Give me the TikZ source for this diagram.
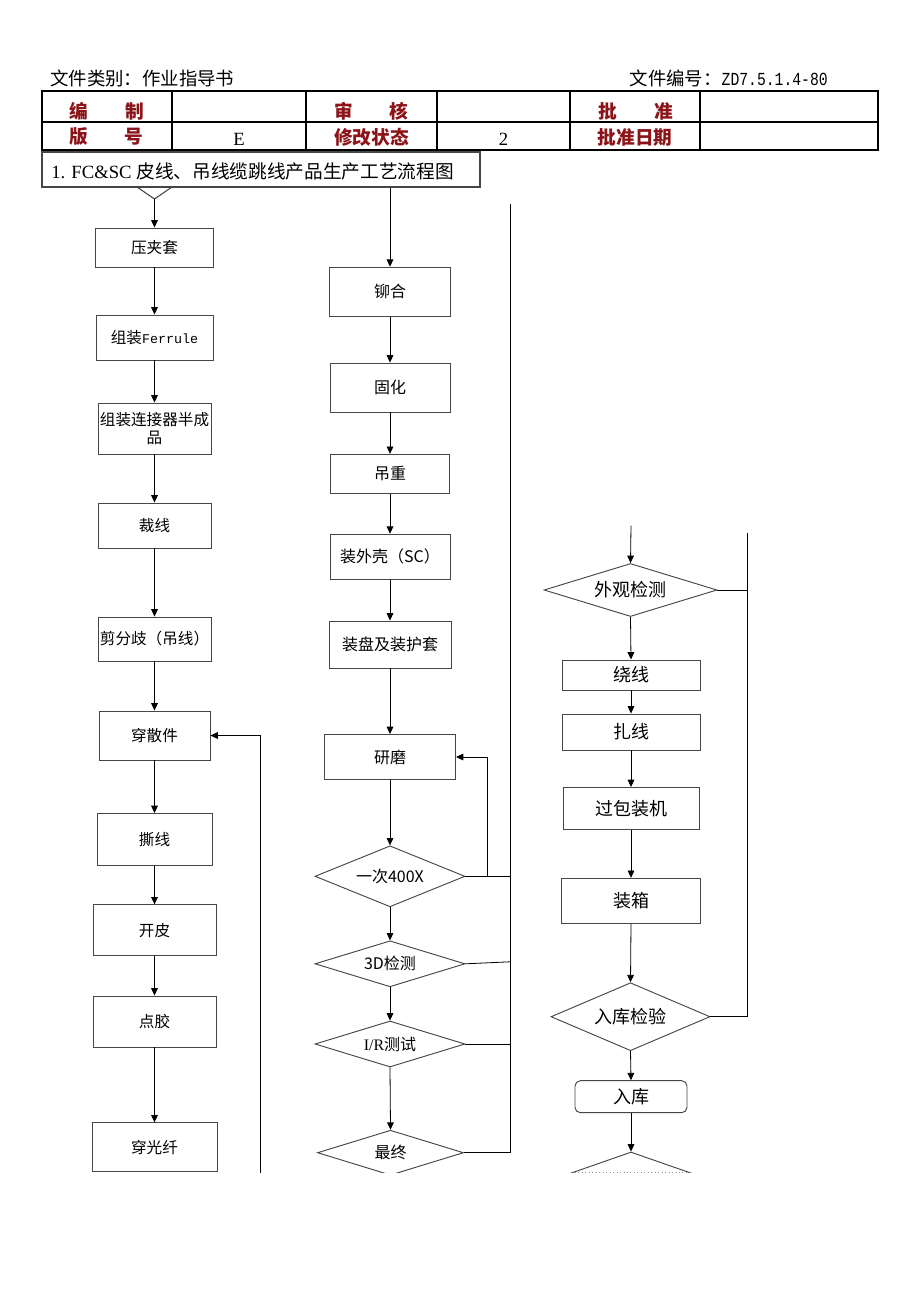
\documentclass[tikz,border=0pt]{standalone}
\usepackage{fontspec}
\setmainfont{Liberation Serif}
\newfontfamily\cjk{Noto Sans CJK SC}
\newfontfamily\monof{Liberation Mono}
\newfontfamily\monon[FakeStretch=0.8]{Liberation Mono}
\usetikzlibrary{shapes.geometric,arrows.meta,calc}
\definecolor{lbl}{RGB}{140,20,25}
\definecolor{ln}{RGB}{70,70,70}
\newcommand\colA{\cjk\fontsize{11.7}{13.5}\selectfont}
\newcommand\colB{\cjk\fontsize{12}{14}\selectfont}
\newcommand\colC{\cjk\fontsize{13.5}{15}\selectfont}
\begin{document}
\begin{tikzpicture}[x=0.75pt,y=-0.75pt,
  box/.style 2 args={draw=ln,line width=0.7pt,rectangle,inner sep=0pt,align=center,
    minimum width=#1*0.75pt,minimum height=#2*0.75pt},
  dia/.style 2 args={draw=ln,line width=0.7pt,diamond,aspect=2.5,inner sep=0pt,
    minimum width=#1*0.75pt,minimum height=#2*0.75pt},
  arr/.style={draw=black,line width=0.6pt,-{Triangle[length=5.5pt,width=5pt]}},
  lnk/.style={draw=black,line width=0.6pt},
  rl/.style={text=lbl,font=\cjk\bfseries\fontsize{14}{16}\selectfont,inner sep=0pt},
  tv/.style={font=\fontsize{14}{16}\selectfont,inner sep=0pt}]
\useasboundingbox (0,0) rectangle (920,1302);
\fill[white] (0,0) rectangle (920,1302);

% header
\node[anchor=west,inner sep=0pt,font=\cjk\fontsize{13.8}{15}\selectfont] (hl) at (50,78) {文件类别：作业指导书};
\node[anchor=east,inner sep=0pt,font=\cjk\fontsize{13.8}{15}\selectfont] (hr) at (828,78) {文件编号：{\monon\fontsize{13.8}{15}\selectfont ZD7.5.1.4-80}};

% table
\draw[black,line width=0.8pt] (42,122) -- (878,122);
\foreach \xx in {172,306,437,570,700} \draw[black,line width=0.8pt] (\xx,91) -- (\xx,150);
\draw[black,line width=1.3pt] (42,91) rectangle (878,150);
\node[rl] (t1) at (79,111) {编};
\node[rl] (t2) at (135,111) {制};
\node[rl] (t3) at (344,111) {审};
\node[rl] (t4) at (399,111) {核};
\node[rl] (t5) at (608,111) {批};
\node[rl] (t6) at (664,111) {准};
\node[rl] (t7) at (79,137) {版};
\node[rl] (t8) at (134,137) {号};
\node[rl] (t9) at (371.5,137) {修改状态};
\node[rl] (t10) at (635,137) {批准日期};
\node[tv] (t11) at (239,139) {E};
\node[tv] (t12) at (503.5,139) {2};

% title
\node[draw=ln,line width=0.8pt,minimum width=438*0.75pt,minimum height=35*0.75pt,inner sep=0pt] (titlebox) at (261,169.5) {};
\node[anchor=west,inner sep=0pt,font=\fontsize{14}{16}\selectfont] (titletext) at (51,171) {1. FC\&SC {\cjk 皮线、吊线缆跳线产品生产工艺流程图}};

\begin{scope}
\clip (0,0) rectangle (920,1172.5);

% left column
\node[box={118}{39},font=\colA] (l1) at (154.5,247.5) {压夹套};
\node[box={117}{45},font=\colA] (l2) at (154.5,337.5) {组装{\monof\fontsize{10}{12}\selectfont Ferrule}};
\node[box={113}{51},font=\colA] (l3) at (154.5,428.5) {组装连接器半成\\品};
\node[box={113}{45},font=\colA] (l4) at (154.5,525.5) {裁线};
\node[box={113}{44},font=\colA] (l5) at (154.5,639) {剪分歧（吊线）};
\node[box={111}{49},font=\colA] (l6) at (154.5,735.5) {穿散件};
\node[box={115}{52},font=\colA] (l7) at (154.5,839.5) {撕线};
\node[box={123}{51},font=\colA] (l8) at (154.5,930.3) {开皮};
\node[box={123}{51},font=\colA] (l9) at (154.5,1021.5) {点胶};
\node[box={125}{49},font=\colA] (l10) at (154.5,1147.3) {穿光纤};

\coordinate (v1) at (137,187);
\coordinate (v2) at (172,187);
\coordinate (vt) at (154.5,199);
\draw[draw=ln,line width=0.8pt] (v1) -- (vt) -- (v2);
\draw[arr] (vt) -- (l1.north);
\foreach \a/\b in {l1/l2,l2/l3,l3/l4,l4/l5,l5/l6,l6/l7,l7/l8,l8/l9,l9/l10}
  \draw[arr] (\a.south) -- (\b.north);
\coordinate (lb) at (260.7,1173);
\draw[arr] (lb) |- (l6.east);

% middle column
\node[box={121}{49},font=\colB] (m1) at (390,291.7) {铆合};
\node[box={120}{49},font=\colB] (m2) at (390,387.5) {固化};
\node[box={119}{39},font=\colB] (m3) at (390,473.8) {吊重};
\node[box={120}{45},font=\colB] (m4) at (390,556.7) {装外壳（SC）};
\node[box={122}{47},font=\colB] (m5) at (390,644.5) {装盘及装护套};
\node[box={131}{45},font=\colB] (m6) at (390,757) {研磨};
\node[dia={150}{61},font=\colB] (d1) at (390,876.3) {一次400X};
\node[dia={150}{46},font=\colB] (d2) at (390,963.8) {3D检测};
\node[dia={150}{46},font=\colB] (d3) at (390,1044) {{\rmfamily I/R}测试};
\node[dia={146}{45},font=\colB] (d4) at (390.5,1152.7) {最终};

\draw[arr] (m1.north |- titlebox.south) -- (m1.north);
\foreach \a/\b in {m1/m2,m2/m3,m3/m4,m4/m5,m5/m6,m6/d1,d1/d2,d2/d3,d3/d4}
  \draw[arr] (\a.south) -- (\b.north);

\coordinate (rtop) at (510,204);
\draw[lnk] (rtop) |- (d4.east);
\draw[lnk] (d1.east) -- (d1.east -| rtop);
\draw[lnk] (d2.east) -- ($(d2.east -| rtop)+(0,-2)$);
\draw[lnk] (d3.east) -- (d3.east -| rtop);
\draw[arr] ($(d1.east)+(21.7,0)$) |- (m6.east);

% right column
\node[dia={173}{53},font=\colC] (r1) at (630.5,590) {外观检测};
\node[box={138}{30},font=\colC] (r2) at (631,675) {绕线};
\node[box={138}{36},font=\colC] (r3) at (631,732) {扎线};
\node[box={136}{42},font=\colC] (r4) at (631,808.5) {过包装机};
\node[box={139}{45},font=\colC] (r5) at (631,900.8) {装箱};
\node[dia={159}{68},font=\colC] (r6) at (630.5,1016.7) {入库检验};
\node[box={112}{32},font=\colC,rounded corners=4pt] (r7) at (631,1096.7) {入库};
\node[dia={160}{56}] (r8) at (631,1180) {};
\draw[draw=ln!60,line width=0.6pt,dotted] (575,1172) -- (688,1172);

\coordinate (rtop2) at (631,525.7);
\draw[arr] (rtop2) -- (r1.north);
\foreach \a/\b in {r1/r2,r2/r3,r3/r4,r4/r5,r5/r6,r6/r7,r7/r8}
  \draw[arr] (\a.south) -- (\b.north);
\coordinate (rr) at (747.3,532.7);
\draw[lnk] (rr) |- (r6.east);
\draw[lnk] (r1.east) -- (r1.east -| rr);
\end{scope}
\end{tikzpicture}
\end{document}
